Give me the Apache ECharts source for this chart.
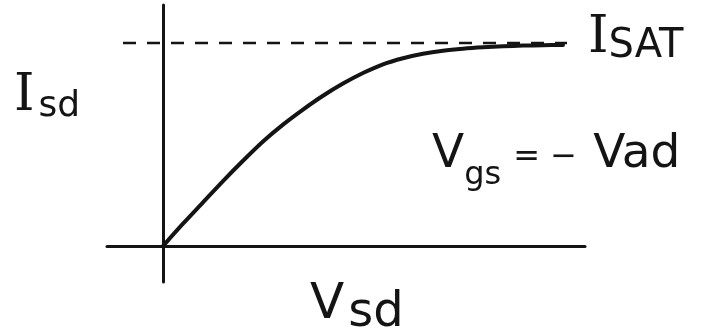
<!DOCTYPE html>
<html>
<head>
<meta charset="utf-8">
<script src="https://cdn.jsdelivr.net/npm/echarts@6/dist/echarts.min.js"></script>
<style>
  html, body { margin: 0; padding: 0; background: #fff; }
  #chart { width: 717px; height: 336px; }
</style>
</head>
<body>
<div id="chart"></div>
<script>
// Source-drain voltage (arbitrary units) and the drain current it drives
const vsd = [0, 0.2, 0.4, 0.6, 0.8, 1.0, 1.2, 1.4, 1.6, 1.8, 2.0,
             2.2, 2.4, 2.6, 2.8, 3.0, 3.2, 3.4, 3.6, 3.8, 4.0];
const isd = [0, 0.110, 0.215, 0.320, 0.420, 0.515, 0.598, 0.672, 0.740, 0.800, 0.852,
             0.895, 0.925, 0.947, 0.962, 0.972, 0.979, 0.984, 0.987, 0.989, 0.990];

// Saturation current level, drawn as a dashed guide
const isatLevel = 1.0;
const isatSpan = [-0.40, 4.04];

// Axis extents (axes cross at the origin)
const xRange = [-0.56, 4.22];
const yRange = [-0.177, 1.187];

const ink = '#141414';

const chart = echarts.init(document.getElementById('chart'));

const curve = vsd.map((v, i) => [v, isd[i]]);
const isatLine = isatSpan.map(v => [v, isatLevel]);

const serif = '"DejaVu Serif", "Liberation Serif", serif';
const sans = '"DejaVu Sans", "Noto Sans", sans-serif';

chart.setOption({
  backgroundColor: '#ffffff',
  animation: false,
  grid: { left: 107, right: 132, top: 5, bottom: 54 },
  xAxis: {
    type: 'value', min: xRange[0], max: xRange[1],
    axisLine: { onZero: true, lineStyle: { color: ink, width: 3 } },
    axisTick: { show: false }, axisLabel: { show: false }, splitLine: { show: false }
  },
  yAxis: {
    type: 'value', min: yRange[0], max: yRange[1],
    axisLine: { show: true, onZero: true, lineStyle: { color: ink, width: 3 } },
    axisTick: { show: false }, axisLabel: { show: false }, splitLine: { show: false }
  },
  series: [
    {
      type: 'line', data: isatLine, showSymbol: false, silent: true,
      lineStyle: { color: ink, width: 2.5, type: [13, 11] }
    },
    {
      type: 'line', data: curve, smooth: 0.3,
      showSymbol: false, silent: true,
      lineStyle: { color: ink, width: 4, cap: 'round', join: 'round' }
    }
  ],
  graphic: [
    {
      type: 'text', left: 14, top: 70,
      style: {
        text: '{a|I}{b|sd}', fill: ink,
        rich: {
          a: { fontFamily: serif, fontSize: 52, fill: ink, verticalAlign: 'bottom' },
          b: { fontFamily: sans, fontSize: 36, fill: ink, verticalAlign: 'bottom', padding: [0, 0, -3, 4] }
        }
      }
    },
    {
      type: 'text', left: 588, top: 12,
      style: {
        text: '{a|I}{b|SAT}', fill: ink,
        rich: {
          a: { fontFamily: serif, fontSize: 52, fill: ink, verticalAlign: 'bottom' },
          b: { fontFamily: sans, fontSize: 40, fill: ink, verticalAlign: 'bottom', padding: [0, 0, -3, 0] }
        }
      }
    },
    {
      type: 'text', left: 432, top: 131,
      style: {
        text: '{v|V}{s|gs}{e| = − }{v|Vad}', fill: ink,
        rich: {
          v: { fontFamily: sans, fontSize: 47, fill: ink, verticalAlign: 'bottom' },
          s: { fontFamily: sans, fontSize: 32, fill: ink, verticalAlign: 'bottom', padding: [0, 2, -14, 0] },
          e: { fontFamily: sans, fontSize: 32, fill: ink, verticalAlign: 'bottom', padding: [0, 6, 4, 0] }
        }
      }
    },
    {
      type: 'text', left: 310, top: 280,
      style: {
        text: '{v|V}{s|sd}', fill: ink,
        rich: {
          v: { fontFamily: sans, fontSize: 50, fill: ink, verticalAlign: 'bottom' },
          s: { fontFamily: sans, fontSize: 48, fill: ink, verticalAlign: 'bottom', padding: [0, 0, -8, 4] }
        }
      }
    }
  ]
});
</script>
</body>
</html>
